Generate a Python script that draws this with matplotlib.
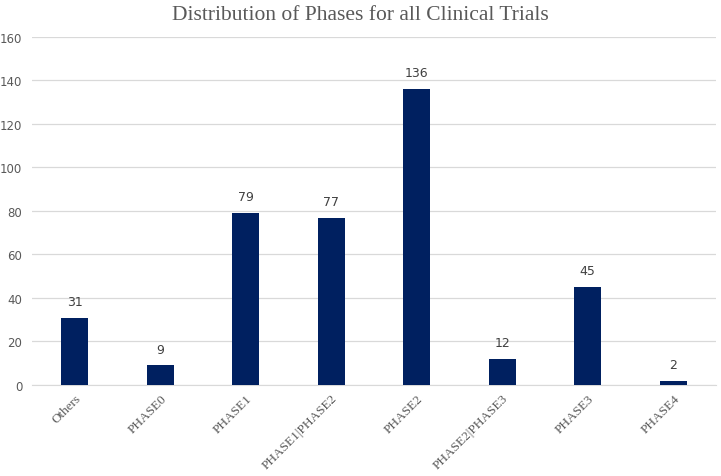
import matplotlib.pyplot as plt

phases = ["Others", "PHASE0", "PHASE1", "PHASE1|PHASE2", "PHASE2",
          "PHASE2|PHASE3", "PHASE3", "PHASE4"]
counts = [31, 9, 79, 77, 136, 12, 45, 2]
yticks = [0, 20, 40, 60, 80, 100, 120, 140, 160]

fig = plt.figure(figsize=(7.21, 4.77), dpi=100)
ax = fig.add_axes([0.0444, 0.1908, 0.9487, 0.7296])

x = range(len(phases))
ax.bar(x, counts, width=0.32, color="#002060", zorder=3)

for xi, c in zip(x, counts):
    ax.text(xi, c + 4.5, str(c), ha="center", va="bottom",
            fontsize=9, color="#404040", family="DejaVu Sans")

ax.set_xlim(-0.5, len(phases) - 0.5)
ax.set_ylim(0, 160)
ax.set_yticks(yticks)
ax.set_yticklabels([str(v) for v in yticks], fontsize=8.5, color="#595959",
                   family="DejaVu Sans")
ax.set_xticks(list(x))
ax.set_xticklabels(phases, rotation=45, ha="right", rotation_mode="anchor",
                   fontsize=9.5, color="#595959", family="Liberation Serif")

ax.grid(axis="y", color="#d9d9d9", linewidth=0.9, zorder=0)
for s in ["top", "right", "left"]:
    ax.spines[s].set_visible(False)
ax.spines["bottom"].set_color("#d9d9d9")
ax.tick_params(axis="x", length=0, pad=5)
ax.tick_params(axis="y", length=0, pad=7)

fig.text(0.5, 0.968, "Distribution of Phases for all Clinical Trials",
         ha="center", va="center", fontsize=15.5, color="#595959",
         family="Liberation Serif")

fig.savefig("out.png", dpi=100)
